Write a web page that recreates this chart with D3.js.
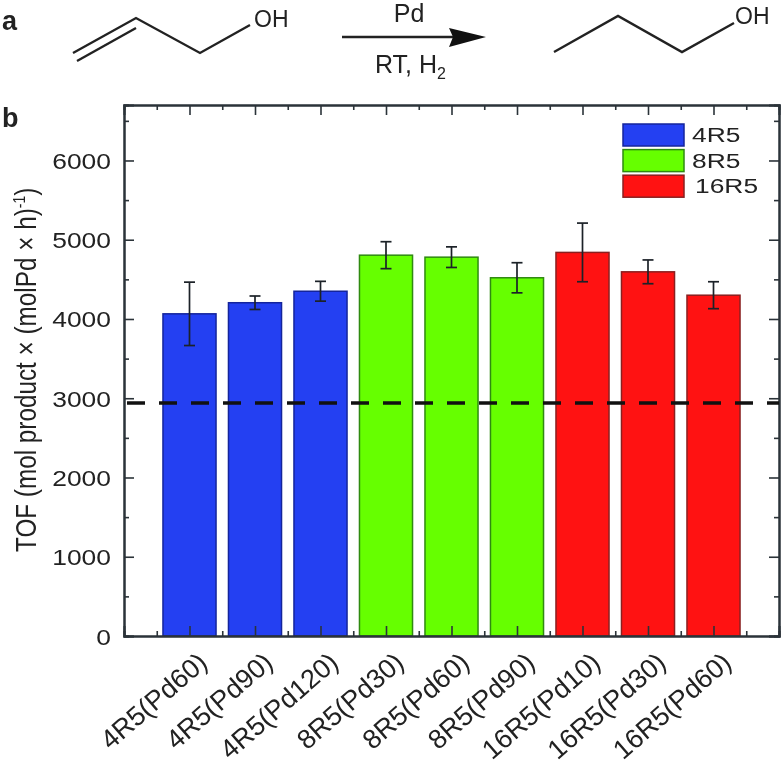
<!DOCTYPE html>
<html><head><meta charset="utf-8">
<script src="https://cdn.jsdelivr.net/npm/d3@7"></script>
<style>html,body{margin:0;background:#fff}svg{display:block;filter:blur(0.6px)}text{font-family:"Liberation Sans",Arial,sans-serif;fill:#222}</style>
</head><body><svg id="c" width="784" height="764"></svg>
<script>
const categories=["4R5(Pd60)","4R5(Pd90)","4R5(Pd120)","8R5(Pd30)","8R5(Pd60)","8R5(Pd90)","16R5(Pd10)","16R5(Pd30)","16R5(Pd60)"];
const groups=["4R5","4R5","4R5","8R5","8R5","8R5","16R5","16R5","16R5"];
const values=[4065,4205,4350,4805,4780,4520,4840,4595,4300];
const errors=[400,85,125,170,130,190,370,150,170];
const legendNames=["4R5","8R5","16R5"];
const legendColors=["#2440f2","#66ff00","#ff1212"];
const legendStrokes=["#14249c","#2f8a10","#8a2020"];
const yTicks=[0,1000,2000,3000,4000,5000,6000];
const yMinor=[500,1500,2500,3500,4500,5500,6500];
const reference=2940;

const svg=d3.select("#c");
const L=124,R=779,T=105,B=636,AX="#2b3339";
const x=d3.scaleLinear().domain([0,10]).range([L,R]);
const y=d3.scaleLinear().domain([0,6700]).range([B,T]);
const col=d3.scaleOrdinal(legendNames,legendColors), stk=d3.scaleOrdinal(legendNames,legendStrokes);
const bw=x(0.81)-x(0);

// bars
svg.append("g").selectAll("rect").data(values).join("rect")
 .attr("x",(d,i)=>x(i+1)-bw/2).attr("width",bw)
 .attr("y",d=>y(d)).attr("height",d=>y(0)-y(d))
 .attr("fill",(d,i)=>col(groups[i])).attr("stroke",(d,i)=>stk(groups[i])).attr("stroke-width",1.5);

// error bars
const eb=svg.append("g").attr("stroke","#1c2228").attr("stroke-width",1.7).attr("fill","none");
values.forEach((v,i)=>{const cx=x(i+1);
 eb.append("line").attr("x1",cx).attr("x2",cx).attr("y1",y(v+errors[i])).attr("y2",y(v-errors[i]));
 [1,-1].forEach(s=>eb.append("line").attr("x1",cx-5.5).attr("x2",cx+5.5).attr("y1",y(v+s*errors[i])).attr("y2",y(v+s*errors[i])));
});

// axes
function style(g){g.selectAll("path.domain").attr("stroke",AX).attr("stroke-width",2);g.selectAll(".tick line").attr("stroke",AX).attr("stroke-width",1.6);}
const xMaj=d3.range(1,10), xMin=d3.range(0.5,10,1);
const ax=(gen,tr)=>svg.append("g").attr("transform",tr).call(gen).call(style);
ax(d3.axisBottom(x).tickValues(xMin).tickSize(-5).tickFormat(""),`translate(0,${B})`);
ax(d3.axisBottom(x).tickValues(xMaj).tickSize(-10).tickFormat(d=>categories[d-1]),`translate(0,${B})`)
 .selectAll("text").attr("x",null).attr("y",null).attr("dy",null).style("font-size","27px").attr("text-anchor","end")
 .attr("transform","translate(19,29) rotate(-41)");
ax(d3.axisTop(x).tickValues(xMin).tickSize(-5).tickFormat(""),`translate(0,${T})`);
ax(d3.axisTop(x).tickValues(xMaj).tickSize(-10).tickFormat(""),`translate(0,${T})`);
ax(d3.axisLeft(y).tickValues(yMinor).tickSize(-5).tickFormat(""),`translate(${L},0)`);
ax(d3.axisLeft(y).tickValues(yTicks).tickSize(-10).tickFormat(d3.format("d")),`translate(${L},0)`)
 .selectAll("text").attr("x",null).attr("dy",null).attr("y",8).style("font-size","22.4px").attr("text-anchor","end")
 .attr("transform","translate(-13,0) scale(1.18,1)");
ax(d3.axisRight(y).tickValues(yMinor).tickSize(-5).tickFormat(""),`translate(${R},0)`);
ax(d3.axisRight(y).tickValues(yTicks).tickSize(-10).tickFormat(""),`translate(${R},0)`);

// reference dashed line
svg.append("line").attr("x1",127).attr("x2",R).attr("y1",y(reference)).attr("y2",y(reference))
 .attr("stroke","#111").attr("stroke-width",3.4).attr("stroke-dasharray","18 14");

// y title
const yt=svg.append("text").attr("transform","translate(36,552) scale(1.18,1) rotate(-90)").style("font-size","24.3px");
yt.append("tspan").text("TOF (mol product × (molPd × h)");
yt.append("tspan").text("-1").style("font-size","14px").attr("dy",-9);
yt.append("tspan").text(")").attr("dy",9);

// legend
const lg=svg.append("g");
legendNames.forEach((n,i)=>{const yy=124+i*25.6;
 lg.append("rect").attr("x",623).attr("y",yy).attr("width",61).attr("height",22).attr("fill",legendColors[i]).attr("stroke",legendStrokes[i]).attr("stroke-width",1.5);
 lg.append("text").attr("transform",`translate(${i==2?695:692},${yy+18}) scale(1.32,1)`).style("font-size","20px").text(n);
});

// panel letters
const bold=(s,yy)=>svg.append("text").attr("x",2).attr("y",yy).style("font-size","27px").style("font-weight","bold").text(s);
bold("a",30);bold("b",127);

// reaction scheme
const chem=svg.append("g").attr("fill","none").attr("stroke","#222").attr("stroke-width",2.4);
const ln=d3.line();
chem.append("path").attr("d",ln([[73,53],[136,18],[200,53],[250,25]]));
chem.append("path").attr("d",ln([[77,61],[136,28]]));
chem.append("path").attr("d",ln([[554,52],[618,16],[682,52],[734,23]]));
chem.append("path").attr("d",ln([[342,37],[455,37]])).attr("stroke-width",2.6);
svg.append("path").attr("d","M449,28L486,37L449,47L453,37Z").attr("fill","#111");
const t=(s,xx,yy,a,fs)=>svg.append("text").attr("x",xx).attr("y",yy).attr("text-anchor",a||"start").style("font-size",(fs||25)+"px").text(s);
t("OH",254,27,null,23);t("OH",735,24,null,23);t("Pd",409,22,"middle",25);
const rt=t("RT, H",375,73);
rt.append("tspan").text("2").style("font-size","16px").attr("dy",6);
</script></body></html>
